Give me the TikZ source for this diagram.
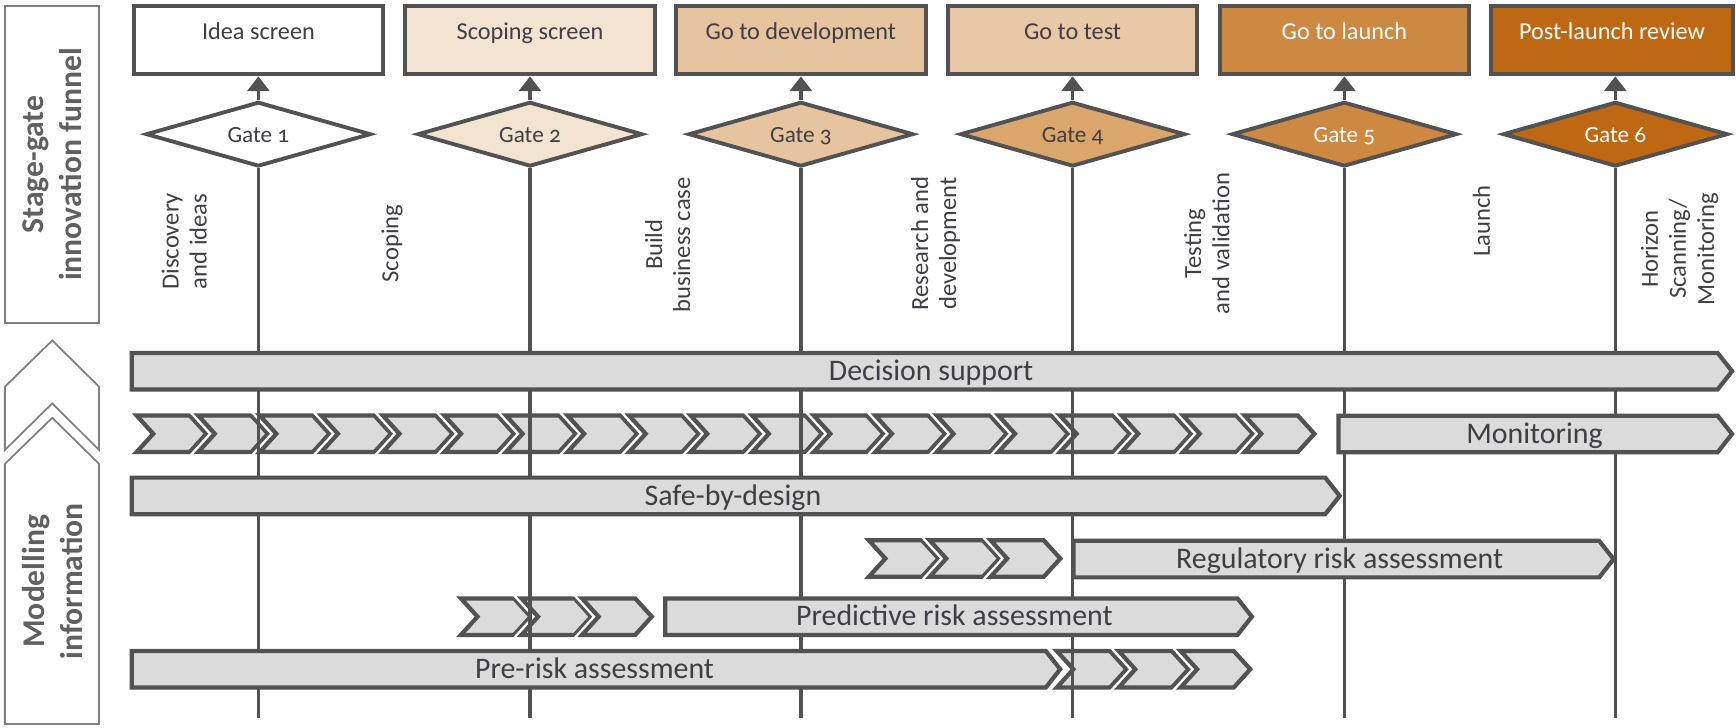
\documentclass[tikz,border=0pt]{standalone}
\usepackage{fontspec}
\setmainfont{Carlito}[Numbers=OldStyle]
\usetikzlibrary{arrows.meta,shapes.geometric}

\definecolor{edge}{RGB}{82,82,82}
\definecolor{barfill}{RGB}{219,219,219}
\definecolor{frame}{RGB}{128,128,128}
\definecolor{ink}{RGB}{62,62,68}
\definecolor{titleink}{RGB}{96,96,96}
\definecolor{stA}{RGB}{255,255,255}
\definecolor{stB}{RGB}{243,227,209}
\definecolor{stC}{RGB}{230,196,160}
\definecolor{stD}{RGB}{232,200,166}
\definecolor{gtD}{RGB}{218,166,108}
\definecolor{stE}{RGB}{205,136,66}
\definecolor{stF}{RGB}{190,104,20}

% one chevron with a white halo: #1 = left x, #2 = middle y
\newcommand\chevpiece[2]{%
  \path[draw=white,line width=2.6pt]
    (#1,#2-16.5) -- ++(48,0) -- ++(15,16.5) -- ++(-15,16.5) -- ++(-48,0) -- ++(15,-16.5) -- cycle;
  \path[fill=barfill,draw=edge,line width=1.2pt]
    (#1,#2-16.5) -- ++(48,0) -- ++(15,16.5) -- ++(-15,16.5) -- ++(-48,0) -- ++(15,-16.5) -- cycle;}

% pointed bar: #1 name, #2 left x, #3 tip x, #4 middle y, #5 text x, #6 text
\newcommand\barpiece[6]{%
  \path[fill=barfill,draw=edge,line width=1.2pt]
    (#2,#4-16.5) -- (#3-13,#4-16.5) -- (#3,#4) -- (#3-13,#4+16.5) -- (#2,#4+16.5) -- cycle;
  \node[bartext] (#1) at (#5,#4) {#6};}

\begin{document}
\begin{tikzpicture}[x=0.315pt,y=-0.315pt,line join=miter,
  stagebox/.style={draw=edge,line width=1.2pt,minimum width=71pt,minimum height=19.5pt,inner sep=0pt,
    font=\fontsize{6.9}{8}\selectfont,text=ink,text height=6pt,text depth=6pt},
  gatebox/.style={diamond,aspect=3.4,draw=edge,line width=1.1pt,minimum width=64pt,minimum height=18.4pt,
    inner sep=0pt,font=\fontsize{6.6}{8}\selectfont,text=ink,text height=5pt,text depth=0pt},
  gatearrow/.style={draw=edge,line width=1pt,-{Triangle[width=6.2pt,length=4.2pt]}},
  gateline/.style={draw=edge,line width=1pt},
  phase/.style={rotate=90,align=center,font=\fontsize{7}{8}\selectfont,text=ink,inner sep=0pt},
  bartext/.style={font=\fontsize{8.5}{10}\selectfont,text=ink,inner sep=0pt,text height=5.2pt,text depth=0pt},
  sidetitle/.style={rotate=90,align=center,font=\fontsize{9}{10.9}\selectfont\bfseries,text=titleink,inner sep=0pt},
  outline/.style={draw=frame,line width=0.5pt}]

\useasboundingbox (0,0) rectangle (1568,657);

% left-hand column
\node[outline,sidetitle,minimum width=90.3pt,minimum height=26.8pt] (funnel) at (47,148.6)
  {Stage-gate\\innovation funnel};
\path[outline] (4.4,349.3) -- (47.2,307.5) -- (89.5,349.3) -- (89.5,406.5) -- (47.2,364.3) -- (4.4,406.5) -- cycle;
\path[outline] (47.2,377.4) -- (89.5,419) -- (89.5,654) -- (4.4,654) -- (4.4,419) -- cycle;
\node[sidetitle] (modelling) at (47.5,525) {Modelling\\information};

% stage boxes
\node[stagebox,fill=stA] (b1) at (233.4,36.1) {Idea screen};
\node[stagebox,fill=stB] (b2) at (478.7,36.1) {Scoping screen};
\node[stagebox,fill=stC] (b3) at (723.4,36.1) {Go to development};
\node[stagebox,fill=stD] (b4) at (968.8,36.1) {Go to test};
\node[stagebox,fill=stE,text=white] (b5) at (1214.3,36.1) {Go to launch};
\node[stagebox,fill=stF,text=white,minimum width=69pt] (b6) at (1456,36.1) {Post-launch review};

% gates
\node[gatebox,fill=stA] (g1) at (233.4,121.2) {Gate 1};
\node[gatebox,fill=stB] (g2) at (478.7,121.2) {Gate 2};
\node[gatebox,fill=stC] (g3) at (723.4,121.2) {Gate 3};
\node[gatebox,fill=gtD] (g4) at (968.8,121.2) {Gate 4};
\node[gatebox,fill=stE,text=white] (g5) at (1214.3,121.2) {Gate 5};
\node[gatebox,fill=stF,text=white] (g6) at (1459,121.2) {Gate 6};

\foreach \i in {1,...,6} {\draw[gatearrow] (g\i.north) -- (g\i.north |- b\i.south);}

% phase labels
\node[phase] (p1) at (166.4,218) {Discovery\\and ideas};
\node[phase] (p2) at (354,220) {Scoping};
\node[phase] (p3) at (603,221) {Build\\business case};
\node[phase] (p4) at (845,220) {Research and\\development};
\node[phase] (p5) at (1090,220) {Testing\\and validation};
\node[phase] (p6) at (1338,199.5) {Launch};
\node[phase] (p7) at (1517,225) {Horizon\\Scanning/\\Monitoring};

% chevron runs
\foreach \i in {0,...,18} {\chevpiece{123.4+55.6*\i}{391.8}}
\foreach \i in {0,1,2} {\chevpiece{784.7+55*\i}{504.5}}
\foreach \i in {0,1,2} {\chevpiece{416.3+54.7*\i}{557}}
\foreach \i in {0,1,2} {\chevpiece{954.5+55.9*\i}{604.5}}

% gate lines down the chart
\coordinate (e1) at (233.4,648.6);
\coordinate (e2) at (478.7,648.6);
\coordinate (e3) at (723.4,648.6);
\coordinate (e4) at (968.8,648.6);
\coordinate (e5) at (1214.3,648.6);
\coordinate (e6) at (1459,648.6);
\foreach \i in {1,...,6} {\draw[gateline] (g\i.south) -- (e\i);}

% information bars
\barpiece{decision}{119}{1564.4}{335.3}{841}{Decision support}
\barpiece{monitoring}{1209}{1564.4}{392}{1386}{Monitoring}
\barpiece{safe}{119}{1210}{447.9}{662}{Safe-by-design}
\barpiece{regulatory}{969.7}{1457.4}{505}{1210}{Regulatory risk assessment}
\barpiece{predictive}{600.8}{1130.7}{557}{862}{Predictive risk assessment}
\barpiece{prerisk}{119}{957.6}{604.5}{537}{Pre-risk assessment}

\end{tikzpicture}
\end{document}
